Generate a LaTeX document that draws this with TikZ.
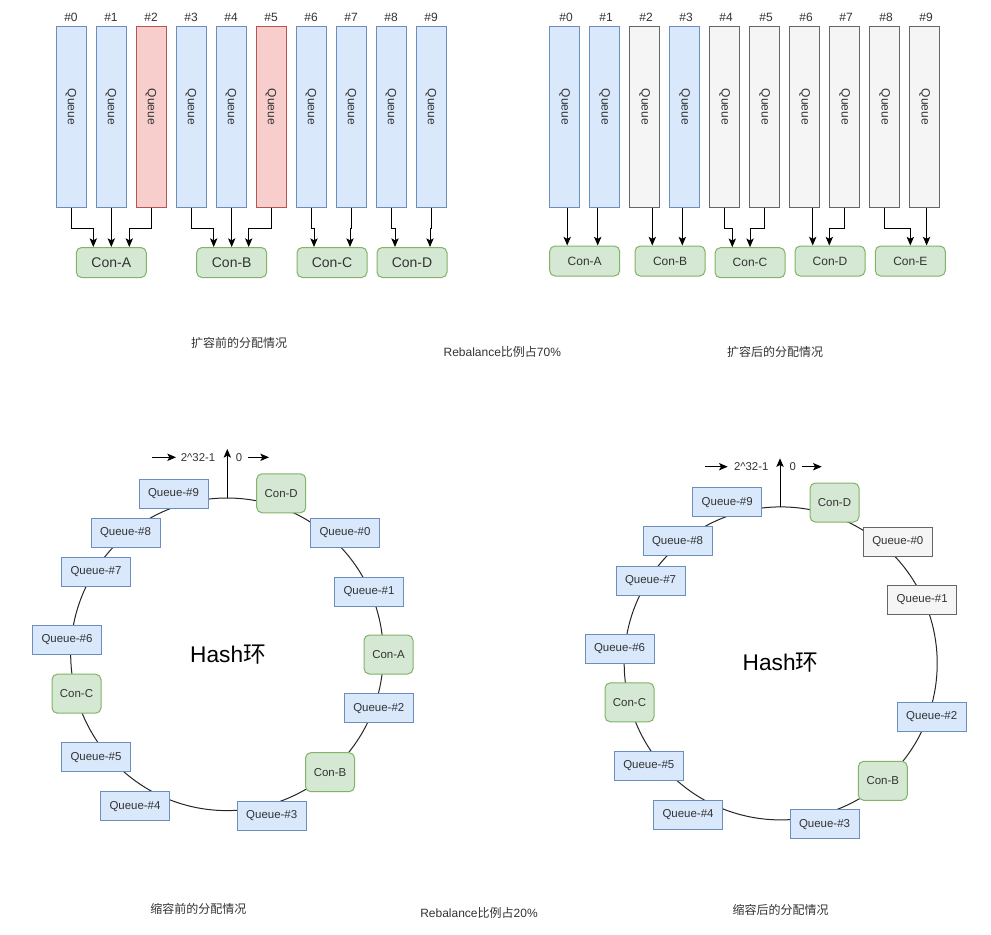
\documentclass[tikz,border=0pt]{standalone}
\usepackage{fontspec}
\setmainfont{Liberation Sans}
\newfontfamily\cjk{Noto Sans CJK SC}
\usetikzlibrary{arrows.meta,calc}
\definecolor{bfill}{HTML}{DAE8FC}\definecolor{bdraw}{HTML}{6C8EBF}
\definecolor{rfill}{HTML}{F8CECC}\definecolor{rdraw}{HTML}{B85450}
\definecolor{gfill}{HTML}{D5E8D4}\definecolor{gdraw}{HTML}{82B366}
\definecolor{hfill}{HTML}{F5F5F5}\definecolor{hdraw}{HTML}{666666}
\definecolor{txt}{HTML}{333333}
\tikzset{
  vq/.style={draw, line width=0.75pt, inner sep=0pt, minimum width=22.5pt, minimum height=135.75pt},
  vblue/.style={vq, fill=bfill, draw=bdraw},
  vred/.style={vq, fill=rfill, draw=rdraw},
  vgray/.style={vq, fill=hfill, draw=hdraw},
  qlabel/.style={rotate=-90, inner sep=0pt, text=txt, font=\fontsize{9}{10}\selectfont},
  numlabel/.style={inner sep=0pt, text=txt, font=\fontsize{9}{10}\selectfont},
  conbox/.style={draw=gdraw, fill=gfill, line width=0.75pt, rounded corners=4pt, inner sep=0pt,
    minimum width=52.5pt, minimum height=22.5pt, text=txt},
  conbig/.style={conbox, font=\fontsize{10.5}{12}\selectfont},
  consmall/.style={conbox, font=\fontsize{9}{10}\selectfont},
  rq/.style={draw=bdraw, fill=bfill, line width=0.75pt, minimum width=51.75pt, minimum height=21.75pt,
    inner sep=0pt, text=txt, font=\fontsize{8.6}{10}\selectfont},
  rqg/.style={rq, draw=hdraw, fill=hfill},
  rc/.style={draw=gdraw, fill=gfill, line width=0.75pt, rounded corners=4pt, minimum width=36.75pt,
    minimum height=29.25pt, inner sep=0pt, text=txt, font=\fontsize{8.6}{10}\selectfont},
  ring/.style={line width=0.75pt, draw=black!85},
  arr/.style={-{Stealth[length=6.5pt,width=5.5pt,inset=1.5pt]}, line width=0.75pt},
  captext/.style={inner sep=0pt, text=txt, font=\cjk\fontsize{9}{11}\selectfont},
  hashlabel/.style={inner sep=0pt, text=black, font=\fontsize{17}{20}\selectfont},
  smalltext/.style={inner sep=0pt, text=txt, font=\fontsize{8.5}{10}\selectfont}
}
\begin{document}
\begin{tikzpicture}[x=0.75pt,y=-0.75pt]
\useasboundingbox (0,0) rectangle (991,934);
\fill[white] (0,0) rectangle (991,934);

% ---------------- top left: before scale-out ----------------
\foreach \i/\s in {0/vblue,1/vblue,2/vred,3/vblue,4/vblue,5/vred,6/vblue,7/vblue,8/vblue,9/vblue}{
  \node[\s] (lq\i) at (71+40*\i,117.5) {};
  \node[qlabel] (lql\i) at (71+40*\i,107) {Queue};
  \node[numlabel] (lqn\i) at (71+40*\i,17.5) {\#\i};
}
\node[conbig] (cA) at (111.3,262.5) {Con-A};
\node[conbig] (cB) at (231.7,262.5) {Con-B};
\node[conbig] (cC) at (332,262.5) {Con-C};
\node[conbig] (cD) at (412,262.5) {Con-D};

\draw[arr] (lq0.south) -- ++(0,20) -| ($(cA.north)+(-18,0)$);
\draw[arr] (lq1.south) -- ++(0,20) -| (cA.north);
\draw[arr] (lq2.south) -- ++(0,20) -| ($(cA.north)+(18,0)$);
\draw[arr] (lq3.south) -- ++(0,20) -| ($(cB.north)+(-18,0)$);
\draw[arr] (lq4.south) -- ++(0,20) -| (cB.north);
\draw[arr] (lq5.south) -- ++(0,20) -| ($(cB.north)+(17,0)$);
\draw[arr] (lq6.south) -- ++(0,20) -| ($(cC.north)+(-18,0)$);
\draw[arr] (lq7.south) -- ++(0,20) -| ($(cC.north)+(18,0)$);
\draw[arr] (lq8.south) -- ++(0,20) -| ($(cD.north)+(-17,0)$);
\draw[arr] (lq9.south) -- ++(0,20) -| ($(cD.north)+(18,0)$);

% ---------------- top right: after scale-out ----------------
\foreach \i/\s in {0/vblue,1/vblue,2/vgray,3/vblue,4/vgray,5/vgray,6/vgray,7/vgray,8/vgray,9/vgray}{
  \node[\s] (rq\i) at (564.6+40*\i,117.5) {};
  \node[qlabel] (rql\i) at (564.6+40*\i,107) {Queue};
  \node[numlabel] (rqn\i) at (566+40*\i,17.5) {\#\i};
}
\node[consmall] (rcA) at (584.7,261) {Con-A};
\node[consmall] (rcB) at (670,261) {Con-B};
\node[consmall] (rcC) at (750,262.7) {Con-C};
\node[consmall] (rcD) at (830,261) {Con-D};
\node[consmall] (rcE) at (910.3,261) {Con-E};

\coordinate (tA1) at ($(rcA.north)+(-17.5,0)$);
\coordinate (tA2) at ($(rcA.north)+(13,0)$);
\coordinate (tB1) at ($(rcB.north)+(-17.7,0)$);
\coordinate (tB2) at ($(rcB.north)+(12.3,0)$);
\coordinate (tC1) at ($(rcC.north)+(-17.7,0)$);
\coordinate (tC2) at (rcC.north);
\coordinate (tD1) at ($(rcD.north)+(-17.3,0)$);
\coordinate (tD2) at ($(rcD.north)+(-0.7,0)$);
\coordinate (tE1) at (rcE.north);
\coordinate (tE2) at ($(rcE.north)+(16.3,0)$);

\draw[arr] (rq0.south -| tA1) -- (tA1);
\draw[arr] (rq1.south -| tA2) -- (tA2);
\draw[arr] (rq2.south -| tB1) -- (tB1);
\draw[arr] (rq3.south -| tB2) -- (tB2);
\draw[arr] (rq4.south) -- ++(0,20) -| (tC1);
\draw[arr] (rq5.south) -- ++(0,20) -| (tC2);
\draw[arr] (rq6.south -| tD1) -- (tD1);
\draw[arr] (rq7.south) -- ++(0,20) -| (tD2);
\draw[arr] (rq8.south) -- ++(0,20) -| (tE1);
\draw[arr] (rq9.south -| tE2) -- (tE2);

% captions top
\node[captext] (capTL) at (239,343.3) {扩容前的分配情况};
\node[captext] (capTM) at (502.3,351.7) {{\rmfamily Rebalance}比例占{\rmfamily 70\%}};
\node[captext] (capTR) at (775,352) {扩容后的分配情况};

% ---------------- bottom left ring: before scale-in ----------------
\coordinate (lc) at (227,654.3);
\draw[ring] (lc) circle[radius=156.3*0.75pt];
\coordinate (ltop) at (227.3,498);
\coordinate (ltopend) at (227.3,449);
\draw[arr] (ltop) -- (ltopend);
\coordinate (lla) at (151.7,457.3);
\coordinate (llb) at (176,457.3);
\draw[arr] (lla) -- (llb);
\node[smalltext] (lmax) at (198,457.3) {2\textasciicircum 32-1};
\node[smalltext] (lzero) at (239,457.3) {0};
\coordinate (lra) at (248,457.3);
\coordinate (lrb) at (269,457.3);
\draw[arr] (lra) -- (lrb);

\node[hashlabel] (lhash) at (228,655) {Hash{\cjk 环}};

\node[rq] (lr9) at (173.5,493.5) {Queue-\#9};
\node[rc] (lrD) at (281.2,493.3) {Con-D};
\node[rq] (lr0) at (345,532.8) {Queue-\#0};
\node[rq] (lr1) at (369,591.5) {Queue-\#1};
\node[rc] (lrA) at (388.5,654.5) {Con-A};
\node[rq] (lr2) at (378.8,708.3) {Queue-\#2};
\node[rc] (lrB) at (330,772.2) {Con-B};
\node[rq] (lr3) at (271.7,815.8) {Queue-\#3};
\node[rq] (lr4) at (135,806.2) {Queue-\#4};
\node[rq] (lr5) at (96,757.3) {Queue-\#5};
\node[rc] (lrC) at (76.5,693.7) {Con-C};
\node[rq] (lr6) at (67,639.7) {Queue-\#6};
\node[rq] (lr7) at (96,571.5) {Queue-\#7};
\node[rq] (lr8) at (125.5,532.5) {Queue-\#8};

% ---------------- bottom right ring: after scale-in ----------------
\coordinate (rc) at (780.7,663.4);
\draw[ring] (rc) circle[radius=156.5*0.75pt];
\coordinate (rtop) at (780,507);
\coordinate (rtopend) at (780,458.3);
\draw[arr] (rtop) -- (rtopend);
\coordinate (rla) at (705,466.7);
\coordinate (rlb) at (727.7,466.7);
\draw[arr] (rla) -- (rlb);
\node[smalltext] (rmax) at (751.2,466.7) {2\textasciicircum 32-1};
\node[smalltext] (rzero) at (792.7,466.7) {0};
\coordinate (rra) at (801.7,466.7);
\coordinate (rrb) at (821.7,466.7);
\draw[arr] (rra) -- (rrb);

\node[hashlabel] (rhash) at (780.5,663) {Hash{\cjk 环}};

\node[rq] (rr9) at (727.2,502.2) {Queue-\#9};
\node[rc] (rrD) at (834.5,502.5) {Con-D};
\node[rqg] (rr0) at (897.8,541.7) {Queue-\#0};
\node[rqg] (rr1) at (922.2,600) {Queue-\#1};
\node[rq] (rr2) at (931.7,716.7) {Queue-\#2};
\node[rc] (rrB) at (882.8,780.8) {Con-B};
\node[rq] (rr3) at (824.5,824.3) {Queue-\#3};
\node[rq] (rr4) at (688,815) {Queue-\#4};
\node[rq] (rr5) at (648.8,766) {Queue-\#5};
\node[rc] (rrC) at (629.5,702.3) {Con-C};
\node[rq] (rr6) at (619.5,649) {Queue-\#6};
\node[rq] (rr7) at (650.5,580.5) {Queue-\#7};
\node[rq] (rr8) at (677.5,541.3) {Queue-\#8};

% captions bottom
\node[captext] (capBL) at (198.3,909) {缩容前的分配情况};
\node[captext] (capBM) at (479,913) {{\rmfamily Rebalance}比例占{\rmfamily 20\%}};
\node[captext] (capBR) at (780.5,909.5) {缩容后的分配情况};
\end{tikzpicture}
\end{document}
